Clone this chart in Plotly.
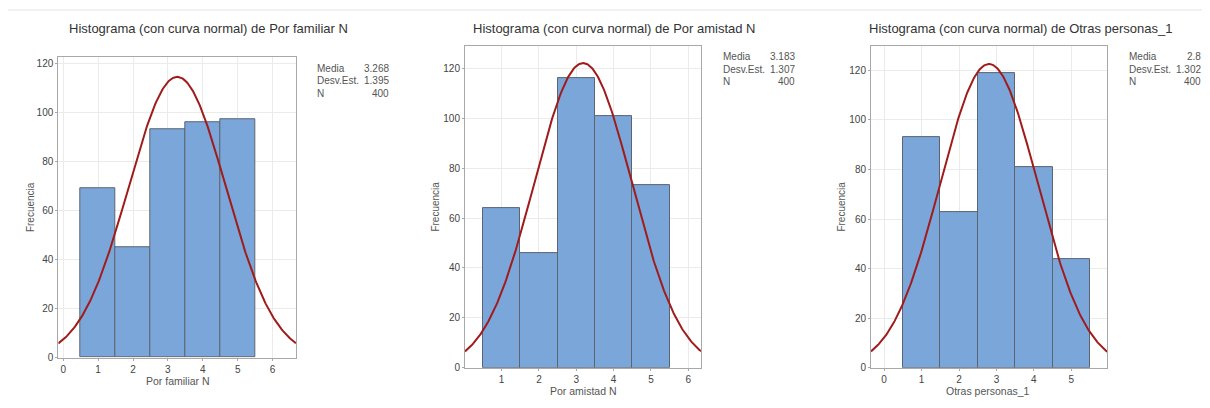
import numpy as np
import plotly.graph_objects as go

# valores observados (1..5) y frecuencias de cada variable
valores = [1, 2, 3, 4, 5]
familiar = [69, 45, 93, 96, 97]
amistad = [64, 46, 116, 101, 73]
otras = [93, 63, 119, 81, 44]

nombres = ["Por familiar N", "Por amistad N", "Otras personas_1"]
series = [familiar, amistad, otras]

# la pagina tiene 8px de margen en el body
OFF = 8
W, H = 1210 - 2 * OFF, 408 - 2 * OFF


def px_x(p):
    return (p - OFF) / W


def px_y(p):
    return 1 - (p - OFF) / H


# posiciones de cada panel en pixeles de la ventana
paneles = [
    dict(l=58.3, r=296, t=58, b=363, xr=[-0.14, 6.67], yr=[0, 122.4],
         tit=208, ytit=30.7, xtit=(177.5, 387), stats=(315, 390.7, 69)),
    dict(l=465, r=701, t=46.7, b=373.3, xr=[0.02, 6.34], yr=[0, 128.9],
         tit=614, ytit=435.7, xtit=(583.5, 397), stats=(721, 797, 57)),
    dict(l=871, r=1107.3, t=46.7, b=373.3, xr=[-0.35, 5.96], yr=[0, 129.8],
         tit=1020, ytit=841.7, xtit=(988, 397), stats=(1126.7, 1202.7, 57)),
]

fuente = "Liberation Sans, Arial, sans-serif"
fig = go.Figure()
anotaciones = []

for i, (nombre, cuentas, p) in enumerate(zip(nombres, series, paneles)):
    n = i + 1
    xa = "x" if n == 1 else f"x{n}"
    ya = "y" if n == 1 else f"y{n}"

    datos = np.repeat(valores, cuentas)
    media = datos.mean()
    sd = datos.std(ddof=1)
    total = len(datos)

    fig.add_trace(go.Bar(
        x=valores, y=cuentas, width=1,
        marker=dict(color="#7ba6d9", line=dict(color="#5b6470", width=1)),
        xaxis=xa, yaxis=ya, showlegend=False, hoverinfo="x+y"))

    xs = np.linspace(p["xr"][0], p["xr"][1], 300)
    ys = total * np.exp(-0.5 * ((xs - media) / sd) ** 2) / (sd * np.sqrt(2 * np.pi))
    fig.add_trace(go.Scatter(
        x=xs, y=ys, mode="lines", line=dict(color="#a01c1c", width=2),
        xaxis=xa, yaxis=ya, showlegend=False, hoverinfo="skip"))

    ejes = dict(showline=True, mirror=True, linecolor="#a8a8a8", linewidth=1,
                showgrid=True, gridcolor="#ebebeb", zeroline=False,
                ticks="outside", ticklen=2, tickcolor="#a8a8a8",
                tickfont=dict(size=10, color="#444", family=fuente))
    fig.layout[f"xaxis{'' if n == 1 else n}"] = dict(
        domain=[px_x(p["l"]), px_x(p["r"])], range=p["xr"], dtick=1,
        anchor=ya, **ejes)
    fig.layout[f"yaxis{'' if n == 1 else n}"] = dict(
        domain=[px_y(p["b"]), px_y(p["t"])], range=p["yr"], dtick=20,
        anchor=xa, **ejes)

    anotaciones.append(dict(
        x=px_x(p["tit"]), y=px_y(29), xref="paper", yref="paper",
        text=f"Histograma (con curva normal) de {nombre}", showarrow=False,
        xanchor="center", yanchor="middle",
        font=dict(size=13, color="#333", family=fuente)))
    anotaciones.append(dict(
        x=px_x(p["ytit"]), y=px_y((p["t"] + p["b"]) / 2), xref="paper", yref="paper",
        text="Frecuencia", showarrow=False, textangle=-90,
        xanchor="center", yanchor="middle",
        font=dict(size=10, color="#555", family=fuente)))
    anotaciones.append(dict(
        x=px_x(p["xtit"][0]), y=px_y(p["xtit"][1]), xref="paper", yref="paper",
        text=nombre, showarrow=False, xanchor="center", yanchor="middle",
        font=dict(size=10.5, color="#555", family=fuente)))

    sx_l, sx_r, sy = p["stats"]
    etiquetas = ["Media", "Desv.Est.", "N"]
    valores_txt = [f"{media:.4g}" if i == 2 else f"{media:.3f}", f"{sd:.3f}", f"{total}"]
    for k, (et, va) in enumerate(zip(etiquetas, valores_txt)):
        yy = px_y(sy + 13 * k)
        anotaciones.append(dict(x=px_x(sx_l), y=yy, xref="paper", yref="paper",
                                text=et, showarrow=False, xanchor="left", yanchor="middle",
                                font=dict(size=10, color="#555", family=fuente)))
        anotaciones.append(dict(x=px_x(sx_r), y=yy, xref="paper", yref="paper",
                                text=va, showarrow=False, xanchor="right", yanchor="middle",
                                font=dict(size=10, color="#555", family=fuente)))

fig.update_layout(
    width=W, height=H, autosize=False,
    margin=dict(l=0, r=0, t=0, b=0),
    paper_bgcolor="white", plot_bgcolor="white",
    bargap=0, annotations=anotaciones,
    shapes=[dict(type="rect", xref="paper", yref="paper",
                 x0=px_x(6), x1=1.05, y0=-0.05, y1=px_y(10),
                 line=dict(color="#e3e3e3", width=1), layer="below")],
)

fig.write_html("out.html")
